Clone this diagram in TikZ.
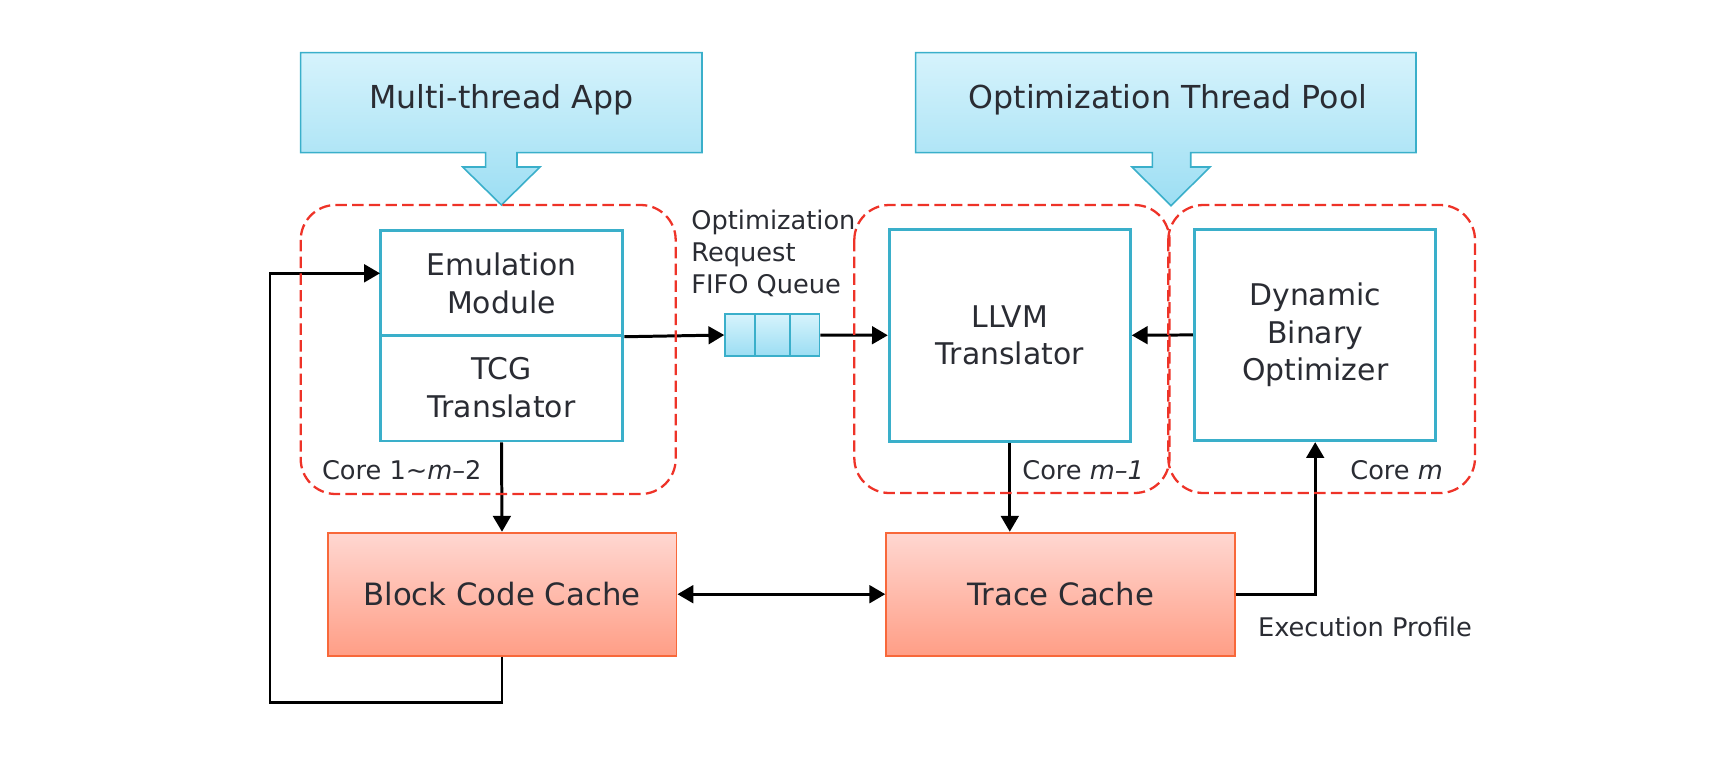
\documentclass[tikz,border=0pt]{standalone}
\usepackage{fontspec}
\setmainfont{DejaVu Sans}
\usetikzlibrary{arrows.meta, positioning, calc}

\definecolor{txtgray}{HTML}{2A2C33}
\definecolor{boxblue}{HTML}{3AAFCA}
\definecolor{skytop}{HTML}{D6F3FC}
\definecolor{skybot}{HTML}{9CDEF3}
\definecolor{cachetop}{HTML}{FFD7D1}
\definecolor{cachebot}{HTML}{FF9E86}
\definecolor{cacheedge}{HTML}{F8683A}
\definecolor{coreedge}{HTML}{EE3328}

\begin{document}
\begin{tikzpicture}[x=0.02cm, y=-0.02cm,
    every node/.style={text=txtgray},
    unit/.style={draw=boxblue, line width=1.7pt, fill=white, align=center,
      font=\fontsize{17}{21.5}\selectfont, inner sep=0pt},
    cache/.style={draw=cacheedge, line width=1.1pt, top color=cachetop, bottom color=cachebot,
      font=\fontsize{17.5}{21}\selectfont, minimum width=6.98cm, minimum height=2.46cm},
    title/.style={draw=boxblue, line width=0.9pt, top color=skytop, bottom color=skybot},
    core/.style={draw=coreedge, line width=1.3pt, dash pattern=on 6.5pt off 3pt, rounded corners=0.7cm},
    flow/.style={line width=1.7pt, -{Triangle[length=9pt,width=10pt]}},
    lbl/.style={font=\fontsize{14.6}{18.2}\selectfont, anchor=west, align=left, inner sep=0pt}]
  \useasboundingbox (0,0) rectangle (1732,758);

  % Thread sources
  \draw[title] (300.7,52.7) -- (702,52.7) -- (702,152.7) -- (517,152.7) -- (517,167) -- (540,167)
    -- (501.4,205) -- (462.7,167) -- (485.7,167) -- (485.7,152.7) -- (300.7,152.7) -- cycle;
  \node[font=\fontsize{18}{22}\selectfont] (app) at (501.4,100) {Multi-thread App};
  \draw[title] (915.7,52.7) -- (1416,52.7) -- (1416,152.7) -- (1190.7,152.7) -- (1190.7,167) -- (1210,167)
    -- (1171,205.7) -- (1132,167) -- (1152.3,167) -- (1152.3,152.7) -- (915.7,152.7) -- cycle;
  \node[font=\fontsize{18}{22}\selectfont] (pool) at (1168,100) {Optimization Thread Pool};

  % Translators
  \node[unit, minimum width=4.86cm, minimum height=2.09cm] (emu) at (501.5,283) {Emulation\\Module};
  \node[unit, minimum width=4.86cm, minimum height=2.12cm] (tcg) at (501.5,388) {TCG\\Translator};
  \node[unit, minimum width=4.82cm, minimum height=4.25cm] (llvm) at (1009.8,335.3) {LLVM\\Translator};
  \node[unit, minimum width=4.83cm, minimum height=4.23cm] (dbo) at (1315.2,334.9) {Dynamic\\Binary\\Optimizer};

  % Request queue
  \node[draw=boxblue, line width=0.9pt, top color=skytop, bottom color=skybot,
    minimum width=1.89cm, minimum height=0.83cm, inner sep=0pt] (fifo) at (772.3,335) {};
  \foreach \f in {0.317,0.687}
    \draw[boxblue, line width=0.9pt] ($(fifo.north west)!\f!(fifo.north east)$) -- ($(fifo.south west)!\f!(fifo.south east)$);
  \node[lbl] (req) at (691,253.5) {Optimization\\Request\\FIFO Queue};

  % Code caches
  \node[cache] (block) at (502,594.2) {Block Code Cache};
  \node[cache] (trace) at (1060.7,594.2) {Trace Cache};

  % Connectors
  \coordinate (fb) at (270,702.7);
  \coordinate (emuin) at (380,273.3);
  \draw[flow] (emu.south east) -- (fifo.west);
  \draw[flow] (fifo.east) -- (llvm.west);
  \draw[flow] (dbo.west) -- (llvm.east);
  \draw[flow] (tcg.south) -- (block.north);
  \draw[flow] (llvm.south) -- (llvm.south |- trace.north);
  \draw[flow, {Triangle[length=9pt,width=10pt]}-{Triangle[length=9pt,width=10pt]}] (block.east) -- (trace.west);
  \draw[flow] (trace.east) -| (dbo.south);
  \draw[flow] (block.south) |- (fb) |- (emuin);
  \node[lbl] (prof) at (1257.7,626.7) {Execution Profile};

  % Cores
  \draw[core] (300.7,205) rectangle (675.7,494);
  \draw[core] (854.3,205) rectangle (1169.5,493);
  \draw[core] (1168.3,205) rectangle (1475,493);
  \node[lbl] (c1) at (321.7,470) {Core 1\textasciitilde\textit{m}--2};
  \node[lbl] (c2) at (1022,470) {Core \textit{m--1}};
  \node[lbl] (c3) at (1350,470) {Core \textit{m}};
\end{tikzpicture}
\end{document}
